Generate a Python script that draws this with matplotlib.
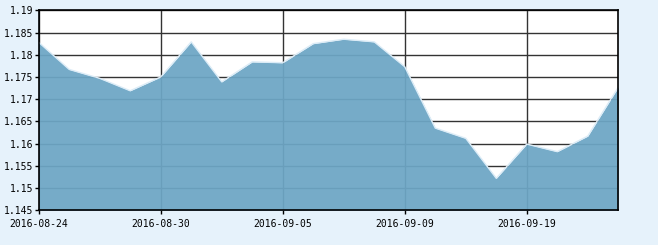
import numpy as np
import matplotlib.pyplot as plt

### DATA ###
dates = ['2016-08-24', '2016-08-25', '2016-08-26', '2016-08-29', '2016-08-30',
         '2016-08-31', '2016-09-01', '2016-09-02', '2016-09-05', '2016-09-06',
         '2016-09-07', '2016-09-08', '2016-09-09', '2016-09-12', '2016-09-13',
         '2016-09-14', '2016-09-19', '2016-09-20', '2016-09-21', '2016-09-22']
values = [1.1828, 1.1767, 1.1747, 1.1719, 1.1750,
          1.1829, 1.1739, 1.1784, 1.1782, 1.1825,
          1.1835, 1.1829, 1.1773, 1.1635, 1.1612,
          1.1522, 1.1599, 1.1582, 1.1617, 1.1727]
tick_idx = [0, 4, 8, 12, 16]
y_ticks = [1.145, 1.15, 1.155, 1.16, 1.165, 1.17, 1.175, 1.18, 1.185, 1.19]
y_labels = ['1.145', '1.15', '1.155', '1.16', '1.165', '1.17', '1.175', '1.18', '1.185', '1.19']

### PLOT ###
fig = plt.figure(figsize=(6.58, 2.45), dpi=100, facecolor='#e6f2fb')
ax = fig.add_axes([38.7/658, 1-210.3/245, (618.3-38.7)/658, 200/245])
ax.set_facecolor('white')

x = np.arange(len(values))

#grid first, fill goes over it with a little transparency
for t in y_ticks:
    ax.axhline(t, color='#333333', lw=1, zorder=1)
for i in tick_idx:
    ax.axvline(i, color='#333333', lw=1, zorder=1)

ax.fill_between(x, 1.145, values, color='#6da6c5', alpha=0.94, lw=0, zorder=2)
ax.plot(x, values, color='#dcecf7', lw=1, zorder=3)

ax.set_xlim(0, len(values)-1)
ax.set_ylim(1.145, 1.19)
ax.set_xticks(tick_idx)
ax.set_xticklabels([dates[i] for i in tick_idx])
ax.set_yticks(y_ticks)
ax.set_yticklabels(y_labels)

for s in ax.spines.values():
    s.set_color('black')
    s.set_linewidth(1.2)
    s.set_zorder(5)

ax.tick_params(direction='out', length=3, width=1, pad=1, labelsize=7,
               colors='black')
ax.tick_params(axis='x', pad=3)
for lab in ax.get_xticklabels() + ax.get_yticklabels():
    lab.set_family('DejaVu Sans Mono')

fig.savefig('out.png', dpi=100, facecolor=fig.get_facecolor())
